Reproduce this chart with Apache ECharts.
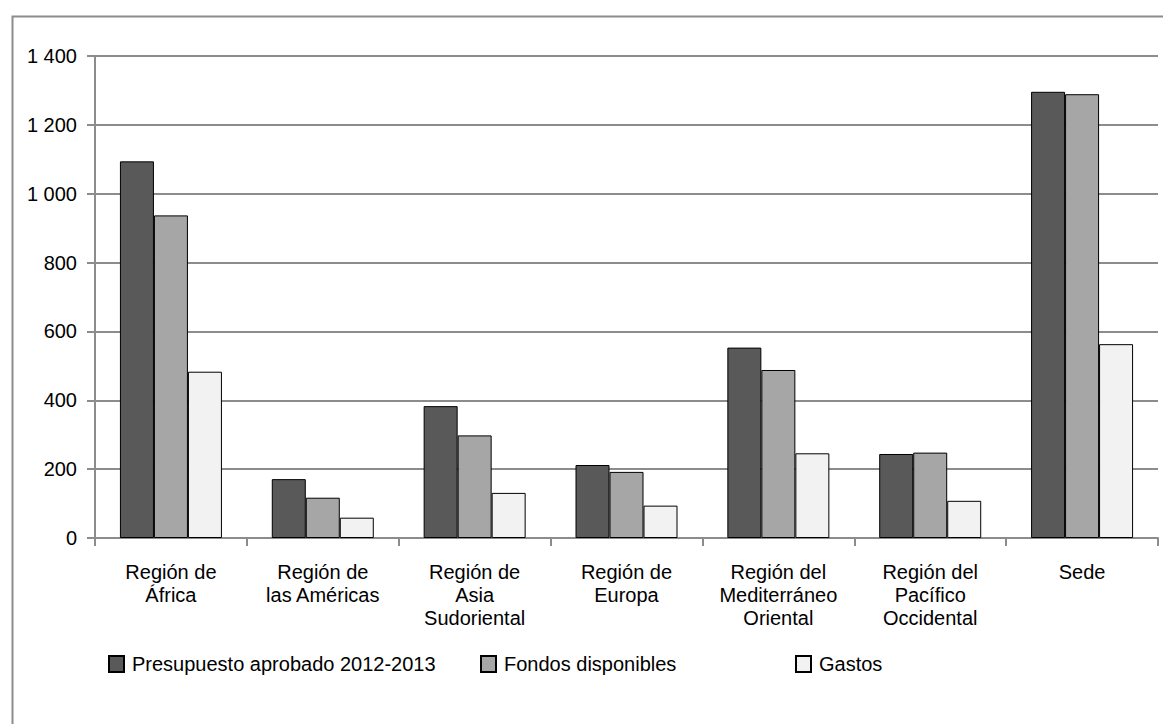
<!DOCTYPE html>
<html>
<head>
<meta charset="utf-8">
<script src="https://cdn.jsdelivr.net/npm/echarts@6/dist/echarts.min.js"></script>
<style>
html,body{margin:0;padding:0;background:#fff;}
#chart{width:1163px;height:724px;}
</style>
</head>
<body>
<div id="chart"></div>
<script>
var categories = ['Región de\nÁfrica', 'Región de\nlas Américas', 'Región de\nAsia\nSudoriental', 'Región de\nEuropa', 'Región del\nMediterráneo\nOriental', 'Región del\nPacífico\nOccidental', 'Sede'];
var seriesNames = ['Presupuesto aprobado 2012-2013', 'Fondos disponibles', 'Gastos'];
var presupuesto = [1094, 171, 383, 212, 553, 244, 1296];
var fondos = [937, 117, 298, 192, 488, 248, 1289];
var gastos = [483, 59, 131, 94, 246, 108, 563];
var yTicks = [0, 200, 400, 600, 800, 1000, 1200, 1400];

var colors = ['#595959', '#a6a6a6', '#f2f2f2'];
var values = [presupuesto, fondos, gastos];
var font = "'Liberation Sans', Arial, sans-serif";
var legendLefts = [108, 480, 795];

var chart = echarts.init(document.getElementById('chart'), null, {renderer: 'svg'});

var option = {
  animation: false,
  backgroundColor: '#ffffff',
  graphic: [{
    type: 'rect', left: 10, top: 14, silent: true,
    shape: {width: 1170, height: 730},
    style: {fill: 'none', stroke: '#8c8c8c', lineWidth: 2}
  }],
  grid: {left: 95, right: 5, top: 56, bottom: 186, containLabel: false},
  legend: seriesNames.map(function (n, i) {
    return {
      data: [{name: n, icon: 'rect'}], left: legendLefts[i], top: 654,
      itemWidth: 15, itemHeight: 16, selectedMode: false, padding: 0,
      textStyle: {fontFamily: font, fontSize: 20, color: '#000', padding: [0, 0, 0, 3]}
    };
  }),
  xAxis: {
    type: 'category',
    data: categories,
    axisLine: {lineStyle: {color: '#8c8c8c', width: 2}},
    axisTick: {show: true, length: 8, lineStyle: {color: '#8c8c8c', width: 2}},
    axisLabel: {interval: 0, margin: 22, fontFamily: font, fontSize: 20, lineHeight: 23, color: '#000', align: 'center'}
  },
  yAxis: {
    type: 'value', min: yTicks[0], max: yTicks[yTicks.length - 1], interval: 200,
    axisLine: {show: true, lineStyle: {color: '#8c8c8c', width: 2}},
    axisTick: {show: true, length: 8, lineStyle: {color: '#8c8c8c', width: 2}},
    splitLine: {lineStyle: {color: '#8c8c8c', width: 2}},
    axisLabel: {margin: 18, fontFamily: font, fontSize: 20, color: '#000',
      formatter: function (v) { return String(v).replace(/\B(?=(\d{3})+(?!\d))/g, ' '); }}
  },
  series: seriesNames.map(function (n, i) {
    return {
      name: n, type: 'bar', data: values[i], barWidth: 34, barGap: '0%',
      itemStyle: {color: colors[i], borderColor: '#000', borderWidth: 1}
    };
  })
};
chart.setOption(option);
</script>
</body>
</html>
